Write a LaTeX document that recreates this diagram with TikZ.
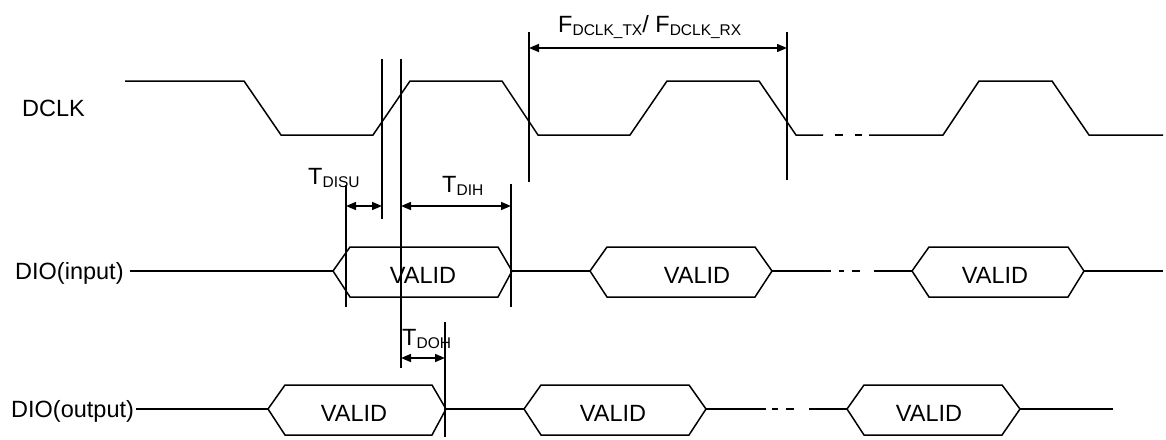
\documentclass[tikz,border=0pt]{standalone}
\usepackage{fontspec}
\setmainfont{Liberation Sans}
\usetikzlibrary{arrows.meta}
\newcommand\sigsub[1]{\raisebox{-3pt}{\fontsize{15.5}{16}\selectfont #1}}
\begin{document}
\begin{tikzpicture}[x=1pt,y=-1pt,
  sig/.style={line width=1.5pt,line join=miter},
  gap/.style={line width=1.5pt,dash pattern=on 8pt off 10pt},
  mark line/.style={line width=1.5pt},
  dim/.style={line width=1.5pt,{Triangle[length=10pt,width=8pt]}-{Triangle[length=10pt,width=8pt]}},
  lbl/.style={anchor=base west,inner sep=0pt,font=\fontsize{23.5}{28}\selectfont},
  valid/.style={anchor=center,inner sep=0pt,font=\fontsize{23.5}{28}\selectfont}]
\useasboundingbox (0,0) rectangle (1166,439);

% labels
\node[lbl] (dclk) at (22,116) {DCLK};
\node[lbl] (dioin) at (15,279) {DIO(input)};
\node[lbl] (dioout) at (11,417) {DIO(output)};

% DCLK waveform
\draw[sig] (125,81) -- (244,81) -- (281,135) -- (373,135) -- (410,81) -- (502,81)
  -- (538,135) -- (630,135) -- (667,81) -- (759,81) -- (796,135) -- (823,135);
\draw[sig] (835,135) -- (843,135) (855,135) -- (862,135);
\draw[sig] (869,135) -- (943,135) -- (979,81) -- (1052,81) -- (1089,135) -- (1163,135);

% DIO(input)
\draw[sig] (130,271) -- (333,271);
\draw[sig] (333,271) -- (350,247) -- (498,247) -- (512,271) -- (498,297) -- (350,297) -- cycle;
\node[valid] (vin1) at (423,275) {VALID};
\draw[sig] (512,271) -- (590,271);
\draw[sig] (590,271) -- (607,247) -- (755,247) -- (772,271) -- (755,297) -- (607,297) -- cycle;
\node[valid] (vin2) at (697,275) {VALID};
\draw[sig] (772,271) -- (831,271);
\draw[sig] (839,271) -- (844,271) (852,271) -- (860,271);
\draw[sig] (874,271) -- (912,271);
\draw[sig] (912,271) -- (929,247) -- (1068,247) -- (1084,271) -- (1068,297) -- (929,297) -- cycle;
\node[valid] (vin3) at (995,275) {VALID};
\draw[sig] (1084,271) -- (1163,271);

% DIO(output)
\draw[sig] (136,409) -- (268,409);
\draw[sig] (268,409) -- (285,385) -- (432,385) -- (446,409) -- (432,435) -- (285,435) -- cycle;
\node[valid] (vout1) at (354,413) {VALID};
\draw[sig] (446,409) -- (524,409);
\draw[sig] (524,409) -- (541,385) -- (689,385) -- (706,409) -- (689,435) -- (541,435) -- cycle;
\node[valid] (vout2) at (613,413) {VALID};
\draw[sig] (706,409) -- (766,409);
\draw[sig] (772,409) -- (778,409) (786,409) -- (794,409);
\draw[sig] (809,409) -- (847,409);
\draw[sig] (847,409) -- (864,385) -- (1002,385) -- (1020,409) -- (1002,435) -- (864,435) -- cycle;
\node[valid] (vout3) at (929,413) {VALID};
\draw[sig] (1020,409) -- (1113,409);

% vertical timing markers
\coordinate (v1t) at (346,185); \coordinate (v1b) at (346,307);
\coordinate (v2t) at (382,59);  \coordinate (v2b) at (382,219);
\coordinate (v3t) at (401,59);  \coordinate (v3b) at (401,368);
\coordinate (v4t) at (511,184); \coordinate (v4b) at (511,307);
\coordinate (v5t) at (529,32);  \coordinate (v5b) at (529,182);
\coordinate (v6t) at (787,32);  \coordinate (v6b) at (787,180);
\coordinate (v7t) at (445,322); \coordinate (v7b) at (445,437);
\foreach \v in {v1,v2,v3,v4,v5,v6,v7}{\draw[mark line] (\v t) -- (\v b);}

% dimension arrows
\coordinate (a1) at (346,206); \coordinate (a2) at (382,206);
\coordinate (a3) at (401,206); \coordinate (a4) at (511,206);
\coordinate (a5) at (529,48);  \coordinate (a6) at (787,48);
\coordinate (a7) at (401,358); \coordinate (a8) at (445,358);
\draw[dim] (a1) -- (a2);
\draw[dim] (a3) -- (a4);
\draw[dim] (a5) -- (a6);
\draw[dim] (a7) -- (a8);

% timing labels
\node[lbl] (tdisu) at (308,184) {T\sigsub{DISU}};
\node[lbl] (tdih) at (442,192) {T\sigsub{DIH}};
\node[lbl] (tdoh) at (402,345) {T\sigsub{DOH}};
\node[lbl] (fdclk) at (558,32) {F\sigsub{DCLK\_TX}/ F\sigsub{DCLK\_RX}};
\end{tikzpicture}
\end{document}
